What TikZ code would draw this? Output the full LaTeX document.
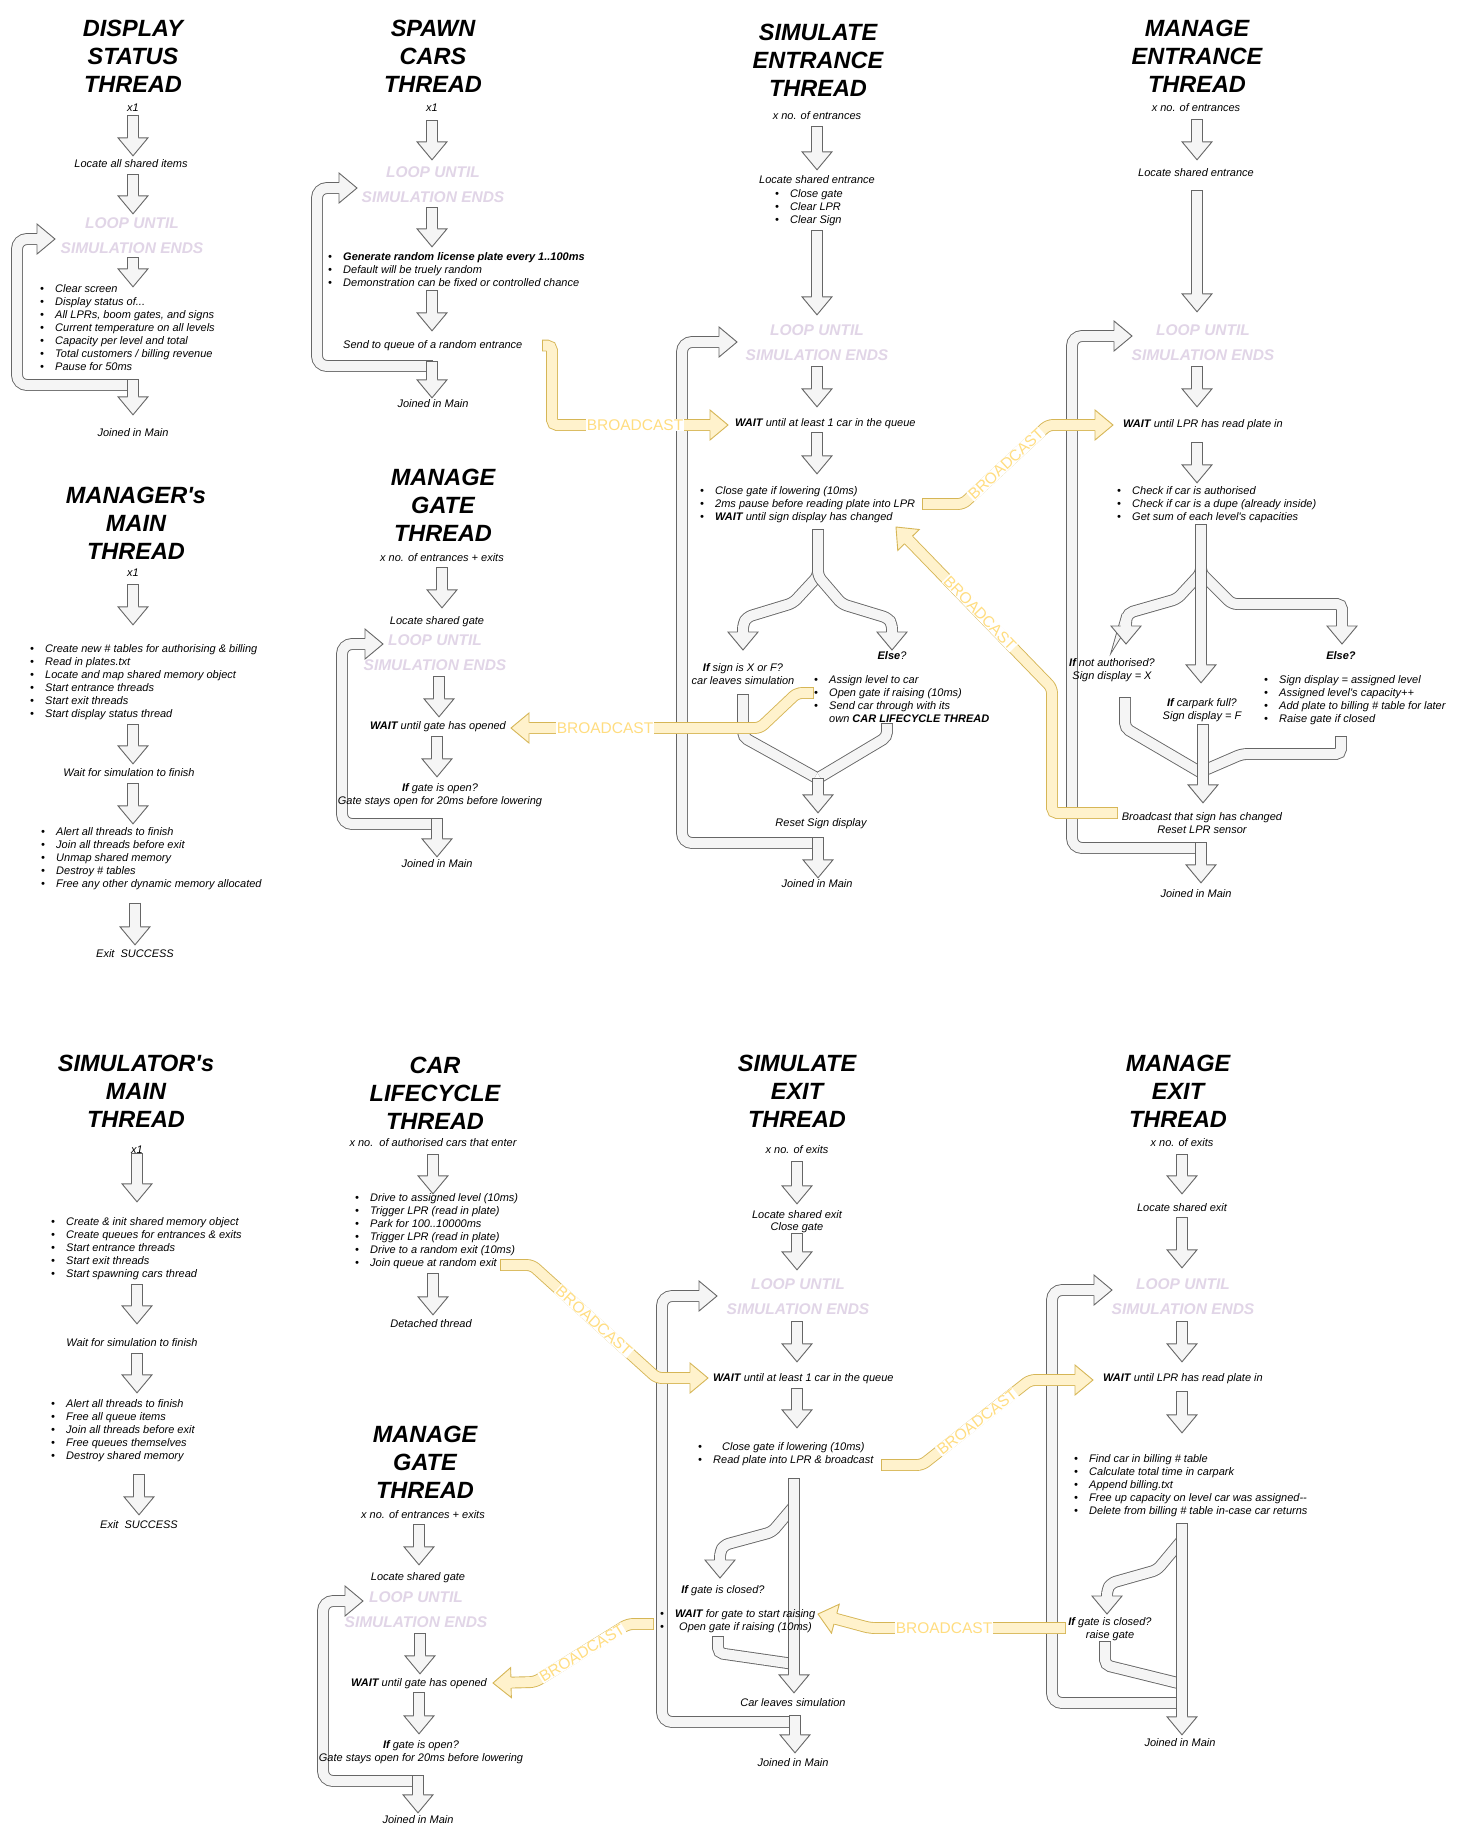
\documentclass[tikz,border=0pt]{standalone}
\usepackage{fontspec}
\setmainfont{Liberation Sans}
\usetikzlibrary{calc}
\pgfdeclarelayer{arrows}
\pgfsetlayers{arrows,main}

\definecolor{gfill}{HTML}{F5F5F5}
\definecolor{gline}{HTML}{666666}
\definecolor{yfill}{HTML}{FFF2CC}
\definecolor{yline}{HTML}{D6B656}
\definecolor{loopc}{HTML}{E1D5E7}
\definecolor{bcc}{HTML}{FFDD80}

% text blocks: first baseline is the node's base
\newcommand\ctab[1]{\begin{tabular}[t]{@{}c@{}}#1\end{tabular}}
\newcommand\ltab[1]{\begin{tabular}[t]{@{}l@{}l@{}}#1\end{tabular}}
\newcommand\bul{\makebox[15pt][l]{\textbullet}&}

\tikzset{
  gout0/.style={draw=gline, line width=11.8pt, shorten <=-0.9pt},
  gin0/.style={draw=gfill, line width=10pt},
  yout0/.style={draw=yline, line width=11.8pt, shorten <=-0.9pt},
  yin0/.style={draw=yfill, line width=10pt},
  gout/.style={gout0, shorten >=18pt},
  gin/.style={gin0, shorten >=18pt},
  yout/.style={yout0, shorten >=18pt},
  yin/.style={yin0, shorten >=18pt},
  ghead/.pic={
    \fill[gfill] (-19,5) -- (-18,5) -- (-18,15) -- (0,0) -- (-18,-15) -- (-18,-5) -- (-19,-5) -- cycle;
    \draw[gline, line width=0.9pt, line join=miter] (-18,5.45) -- (-18,15) -- (0,0) -- (-18,-15) -- (-18,-5.45);
  },
  yhead/.pic={
    \fill[yfill] (-19,5) -- (-18,5) -- (-18,15) -- (0,0) -- (-18,-15) -- (-18,-5) -- (-19,-5) -- cycle;
    \draw[yline, line width=0.9pt, line join=miter] (-18,5.45) -- (-18,15) -- (0,0) -- (-18,-15) -- (-18,-5.45);
  },
  txt/.style={font=\fontsize{11}{13}\selectfont\itshape, inner sep=0pt, anchor=base},
  txtl/.style={txt, anchor=base west},
  title/.style={font=\fontsize{23.5}{28}\selectfont\bfseries\itshape, inner sep=0pt, anchor=base},
  loopt/.style={font=\fontsize{15.5}{25}\selectfont\bfseries\itshape, text=loopc, inner sep=0pt, anchor=base},
  bclab/.style={font=\fontsize{15.5}{18}\selectfont, text=bcc, fill=white, inner sep=0.5pt},
  loopcorner/.style={rounded corners=10pt},
  brcorner/.style={rounded corners=5pt},
  ycorner/.style={rounded corners=5pt},
}

% block arrow along a path, drawn beneath the texts:
% [opts]{g|y}{path up to last bend}{last bend}{tip}
\newcommand\flexarr[5][]{%
  \begin{pgfonlayer}{arrows}
  \draw[#2out,#1] #3 -- #5;
  \draw[#2in,#1] #3 -- #5;
  \path let \p1=#4, \p2=#5, \n1={atan2(\y2-\y1,\x2-\x1)} in (\p2) pic[rotate=\n1] {#2head};
  \end{pgfonlayer}
}
% block band without a head
\newcommand\flexbar[3][]{%
  \begin{pgfonlayer}{arrows}
  \draw[#2out0,#1] #3;
  \draw[#2in0,#1] #3;
  \end{pgfonlayer}
}
% straight downward block arrow from node #1 to node #2 at x=#3,
% start moved down by #4, tip moved down by #5
\newcommand\garrow[5]{%
  \flexarr{g}{($(#1.south -| #3,0)+(0,#4)$)}{($(#1.south -| #3,0)+(0,#4)$)}{($(#2.north -| #3,0)+(0,#5)$)}}

\begin{document}
\begin{tikzpicture}[x=1pt,y=-1pt]
\begin{pgfonlayer}{arrows}
\fill[white] (0,0) rectangle (1461,1832);
\end{pgfonlayer}
\useasboundingbox (0,0) rectangle (1461,1832);

%================ DISPLAY STATUS THREAD ================
\node[title] (dsTitle) at (133,36.4) {\ctab{DISPLAY\\STATUS\\THREAD}};
\node[txt] (dsN) at (133,111.5) {\ctab{x1}};
\node[txt] (dsLoc) at (131,167.5) {\ctab{Locate all shared items}};
\node[loopt] (dsLoop) at (132,228.5) {\ctab{LOOP UNTIL\\SIMULATION ENDS}};
\node[txtl] (dsList) at (40,292.5) {\ltab{\bul Clear screen\\\bul Display status of...\\\bul All LPRs, boom gates, and signs\\\bul Current temperature on all levels\\\bul Capacity per level and total\\\bul Total customers / billing revenue\\\bul Pause for 50ms}};
\node[txt] (dsJoin) at (133,436.5) {\ctab{Joined in Main}};

\flexarr[loopcorner]{g}{(133,385) -- (17,385) -- (17,239)}{(17,239)}{(55,239)}
\garrow{dsN}{dsLoc}{133}{0}{-2.4}
\garrow{dsLoc}{dsLoop}{133}{3.6}{3}
\garrow{dsLoop}{dsList}{133}{-3}{3.6}
\garrow{dsList}{dsJoin}{133}{5.6}{-12.4}

%================ SPAWN CARS THREAD ================
\node[title] (scTitle) at (433,36.4) {\ctab{SPAWN\\CARS\\THREAD}};
\node[txt] (scN) at (432,111.5) {\ctab{x1}};
\node[loopt] (scLoop) at (433,177.5) {\ctab{LOOP UNTIL\\SIMULATION ENDS}};
\node[txtl] (scList) at (328,260.5) {\ltab{\bul\textbf{Generate random license plate every 1..100ms}\\\bul Default will be truely random\\\bul Demonstration can be fixed or controlled chance}};
\node[txtl] (scSend) at (343,348.5) {\ctab{Send to queue of a random entrance}};
\node[txt] (scJoin) at (433,407.5) {\ctab{Joined in Main}};

\flexarr[loopcorner]{g}{(432,366) -- (317,366) -- (317,188)}{(317,188)}{(357,188)}
\garrow{scN}{scLoop}{432}{5.6}{0}
\garrow{scLoop}{scList}{432}{-2}{-4.4}
\garrow{scList}{scSend}{432}{0.6}{-8.4}
\garrow{scSend}{scJoin}{432}{9.6}{-0.4}

%================ MANAGE GATE THREAD (top) ================
\node[title] (mgaTitle) at (443,485.4) {\ctab{MANAGE\\GATE\\THREAD}};
\node[txt] (mgaN) at (442,561.5) {\ctab{x no. of entrances + exits}};
\node[txt] (mgaLoc) at (437,624.5) {\ctab{Locate shared gate}};
\node[loopt] (mgaLoop) at (435,645.5) {\ctab{LOOP UNTIL\\SIMULATION ENDS}};
\node[txt] (mgaWait) at (438,729.5) {\ctab{\textbf{WAIT} until gate has opened}};
\node[txt] (mgaIf) at (440,791.5) {\ctab{\textbf{If} gate is open?\\Gate stays open for 20ms before lowering}};
\node[txt] (mgaJoin) at (437,867.5) {\ctab{Joined in Main}};

\flexarr[loopcorner]{g}{(437,824) -- (342,824) -- (342,644)}{(342,644)}{(383,644)}
\garrow{mgaN}{mgaLoc}{442}{2.6}{-7.4}
\garrow{mgaLoop}{mgaWait}{439}{-1}{-3.4}
\garrow{mgaWait}{mgaIf}{437}{3.6}{-5.4}
\garrow{mgaIf}{mgaJoin}{437}{10.6}{-1.4}

%================ MANAGER's MAIN THREAD ================
\node[title] (mmTitle) at (136,503) {\ctab{MANAGER\textquotesingle s\\MAIN\\THREAD}};
\node[txt] (mmN) at (133,576.5) {\ctab{x1}};
\node[txtl] (mmListA) at (30,652.5) {\ltab{\bul Create new \# tables for authorising \& billing\\\bul Read in plates.txt\\\bul Locate and map shared memory object\\\bul Start entrance threads\\\bul Start exit threads\\\bul Start display status thread}};
\node[txt] (mmWait) at (129,776.5) {\ctab{Wait for simulation to finish}};
\node[txtl] (mmListB) at (41,835.5) {\ltab{\bul Alert all threads to finish\\\bul Join all threads before exit\\\bul Unmap shared memory\\\bul Destroy \# tables\\\bul Free any other dynamic memory allocated}};
\node[txt] (mmExit) at (135,957.5) {\ctab{Exit~~SUCCESS}};

\garrow{mmN}{mmListA}{133}{4.6}{-18.4}
\garrow{mmListA}{mmWait}{133}{3.6}{-3.4}
\garrow{mmWait}{mmListB}{133}{3.6}{-2.4}
\garrow{mmListB}{mmExit}{135}{12.1}{-3.4}

%================ SIMULATE ENTRANCE THREAD ================
\node[title] (seTitle) at (818,40.4) {\ctab{SIMULATE\\ENTRANCE\\THREAD}};
\node[txt] (seN) at (817,119.5) {\ctab{x no. of entrances}};
\node[txt] (seLoc) at (817,183.5) {\ctab{Locate shared entrance}};
\node[txtl] (seList) at (775,197.5) {\ltab{\bul Close gate\\\bul Clear LPR\\\bul Clear Sign}};
\node[loopt] (seLoop) at (817,335.5) {\ctab{LOOP UNTIL\\SIMULATION ENDS}};
\node[txtl] (seWait) at (735,426.5) {\ctab{\textbf{WAIT} until at least 1 car in the queue}};
\node[txtl] (seListB) at (700,494.5) {\ltab{\bul Close gate if lowering (10ms)\\\bul 2ms pause before reading plate into LPR\\\bul\textbf{WAIT} until sign display has changed}};
\node[txt] (seElse) at (892,659.5) {\ctab{\textbf{Else}?}};
\node[txt] (seIfx) at (743,671.5) {\ctab{\textbf{If} sign is X or F?\\car leaves simulation}};
\node[txtl] (seListC) at (814,683.5) {\ltab{\bul Assign level to car\\\bul Open gate if raising (10ms)\\\bul Send car through with its\\& own \textbf{CAR LIFECYCLE THREAD}}};
\node[txt] (seReset) at (821,826.5) {\ctab{Reset Sign display}};
\node[txt] (seJoin) at (817,887.5) {\ctab{Joined in Main}};

\flexarr[loopcorner]{g}{(818,843) -- (682,843) -- (682,342)}{(682,342)}{(737,342)}
\garrow{seN}{seLoc}{817}{3.6}{-4.4}
\garrow{seList}{seLoop}{817}{3.6}{-3}
\garrow{seLoop}{seWait}{817}{-1}{-10.4}
\garrow{seWait}{seListB}{817}{2.6}{-11.4}
% sign check splits into two outcomes
\flexarr[brcorner]{g}{(818,530) -- (818,576) -- (793,603) -- (747,617) -- (743,624)}{(743,624)}{(743,650)}
\flexarr[brcorner]{g}{(818,530) -- (818,576) -- (842,604) -- (888,618) -- (892,624)}{(892,624)}{(892,650)}
% outcomes rejoin
\flexbar[brcorner]{g}{(743,695) -- (743,737) -- (815,777)}
\flexbar[brcorner]{g}{(887,724) -- (887,737) -- (820,777)}
\flexarr{g}{(818,779)}{(818,779)}{($(seReset.north -| 818,0)+(0,-4.4)$)}
\garrow{seReset}{seJoin}{818}{7.6}{-0.4}

%================ MANAGE ENTRANCE THREAD ================
\node[title] (meTitle) at (1197,36.4) {\ctab{MANAGE\\ENTRANCE\\THREAD}};
\node[txt] (meN) at (1196,111.5) {\ctab{x no. of entrances}};
\node[txt] (meLoc) at (1196,176.5) {\ctab{Locate shared entrance}};
\node[loopt] (meLoop) at (1203,335.5) {\ctab{LOOP UNTIL\\SIMULATION ENDS}};
\node[txtl] (meWait) at (1123,427.5) {\ctab{\textbf{WAIT} until LPR has read plate in}};
\node[txtl] (meList) at (1117,494.5) {\ltab{\bul Check if car is authorised\\\bul Check if car is a dupe (already inside)\\\bul Get sum of each level\textquotesingle s capacities}};
\node[txt] (meElse) at (1341,659.5) {\ctab{\textbf{Else?}}};
\node[txt] (meIfna) at (1112,666.5) {\ctab{\textbf{If} not authorised?\\Sign display = X}};
\node[txt] (meIffull) at (1202,706.5) {\ctab{\textbf{If} carpark full?\\Sign display = F}};
\node[txtl] (meListB) at (1264,683.5) {\ltab{\bul Sign display = assigned level\\\bul Assigned level\textquotesingle s capacity++\\\bul Add plate to billing \# table for later\\\bul Raise gate if closed}};
\node[txt] (meBc) at (1202,820.5) {\ctab{Broadcast that sign has changed\\Reset LPR sensor}};
\node[txt] (meJoin) at (1196,897.5) {\ctab{Joined in Main}};

\flexarr[loopcorner]{g}{(1200,848) -- (1072,848) -- (1072,336)}{(1072,336)}{(1132,336)}
\garrow{meN}{meLoc}{1197}{4.6}{-7.4}
\garrow{meLoc}{meLoop}{1197}{10.6}{-6}
\garrow{meLoop}{meWait}{1197}{-1}{-11.4}
\garrow{meWait}{meList}{1197}{11.6}{-2.4}
% three outcomes of the plate check
\flexarr[brcorner]{g}{(1201,525) -- (1201,573) -- (1177,599) -- (1128,613) -- (1126,620)}{(1126,620)}{(1126,644)}
\flexarr[brcorner]{g}{(1201,525) -- (1201,573) -- (1232,604) -- (1342,604)}{(1342,604)}{(1342,644)}
\garrow{meList}{meIffull}{1201}{0.6}{-14.4}
\flexbar[brcorner]{g}{(1125,698) -- (1125,728) -- (1200,772)}
\flexbar[brcorner]{g}{(1341,737) -- (1341,754) -- (1242,754) -- (1205,770)}
\garrow{meIffull}{meBc}{1203}{1.6}{-8.4}
\garrow{meBc}{meJoin}{1201}{5.6}{-5.4}

%================ SIMULATOR's MAIN THREAD ================
\node[title] (smTitle) at (136,1071.4) {\ctab{SIMULATOR\textquotesingle s\\MAIN\\THREAD}};
\node[txt] (smN) at (137,1153.5) {\ctab{x1}};
\node[txtl] (smListA) at (51,1225.5) {\ltab{\bul Create \& init shared memory object\\\bul Create queues for entrances \& exits\\\bul Start entrance threads\\\bul Start exit threads\\\bul Start spawning cars thread}};
\node[txt] (smWait) at (132,1346.5) {\ctab{Wait for simulation to finish}};
\node[txtl] (smListB) at (51,1407.5) {\ltab{\bul Alert all threads to finish\\\bul Free all queue items\\\bul Join all threads before exit\\\bul Free queues themselves\\\bul Destroy shared memory}};
\node[txt] (smExit) at (139,1528.5) {\ctab{Exit~~SUCCESS}};

\garrow{smN}{smListA}{137}{-3.4}{-14.4}
\garrow{smListA}{smWait}{137}{3.6}{-13.4}
\garrow{smWait}{smListB}{137}{3.6}{-5.4}
\garrow{smListB}{smExit}{139}{11.6}{-4.4}

%================ CAR LIFECYCLE THREAD ================
\node[title] (clTitle) at (435,1073.4) {\ctab{CAR\\LIFECYCLE\\THREAD}};
\node[txt] (clN) at (433,1146.5) {\ctab{x no.~~of authorised cars that enter}};
\node[txtl] (clList) at (355,1201.5) {\ltab{\bul Drive to assigned level (10ms)\\\bul Trigger LPR (read in plate)\\\bul Park for 100..10000ms\\\bul Trigger LPR (read in plate)\\\bul Drive to a random exit (10ms)\\\bul Join queue at random exit}};
\node[txt] (clDet) at (431,1327.5) {\ctab{Detached thread}};

\garrow{clN}{clList}{433}{4.6}{1.6}
\garrow{clList}{clDet}{433}{3.6}{-3.4}

%================ MANAGE GATE THREAD (bottom) ================
\node[title] (mgbTitle) at (425,1442.4) {\ctab{MANAGE\\GATE\\THREAD}};
\node[txt] (mgbN) at (423,1518.5) {\ctab{x no. of entrances + exits}};
\node[txt] (mgbLoc) at (418,1580.5) {\ctab{Locate shared gate}};
\node[loopt] (mgbLoop) at (416,1602.5) {\ctab{LOOP UNTIL\\SIMULATION ENDS}};
\node[txt] (mgbWait) at (419,1686.5) {\ctab{\textbf{WAIT} until gate has opened}};
\node[txt] (mgbIf) at (421,1748.5) {\ctab{\textbf{If} gate is open?\\Gate stays open for 20ms before lowering}};
\node[txt] (mgbJoin) at (418,1823.5) {\ctab{Joined in Main}};

\flexarr[loopcorner]{g}{(418,1781) -- (323,1781) -- (323,1601)}{(323,1601)}{(363,1601)}
\garrow{mgbN}{mgbLoc}{419}{2.6}{-6.4}
\garrow{mgbLoop}{mgbWait}{420}{-1}{-3.4}
\garrow{mgbWait}{mgbIf}{419}{2.6}{-5.4}
\garrow{mgbIf}{mgbJoin}{418}{10.6}{-1.4}

%================ SIMULATE EXIT THREAD ================
\node[title] (sxTitle) at (797,1071.4) {\ctab{SIMULATE\\EXIT\\THREAD}};
\node[txt] (sxN) at (797,1153.5) {\ctab{x no. of exits}};
\node[txt, font=\fontsize{11}{12}\selectfont\itshape] (sxLoc) at (797,1218.5) {\ctab{Locate shared exit\\Close gate}};
\node[loopt] (sxLoop) at (798,1289.5) {\ctab{LOOP UNTIL\\SIMULATION ENDS}};
\node[txtl] (sxWait) at (713,1381.5) {\ctab{\textbf{WAIT} until at least 1 car in the queue}};
\node[txtl] (sxList) at (698,1450.5) {\ltab{\bul\hspace{9pt}Close gate if lowering (10ms)\\\bul Read plate into LPR \& broadcast}};
\node[txt] (sxIfc) at (723,1593.5) {\ctab{\textbf{If} gate is closed?}};
\node[txtl] (sxListB) at (660,1617.5) {\ltab{\bul\textbf{WAIT} for gate to start raising\\\bul\hspace{4pt}Open gate if raising (10ms)}};
\node[txt] (sxLeave) at (793,1706.5) {\ctab{Car leaves simulation}};
\node[txt] (sxJoin) at (793,1766.5) {\ctab{Joined in Main}};

\flexarr[loopcorner]{g}{(795,1722) -- (662,1722) -- (662,1296)}{(662,1296)}{(717,1296)}
\garrow{sxN}{sxLoc}{797}{4.6}{-6.1}
\garrow{sxLoc}{sxLoop}{797}{0}{-2}
\garrow{sxLoop}{sxWait}{797}{0}{-10.4}
\garrow{sxWait}{sxList}{797}{3.6}{-13.4}
\flexarr[brcorner]{g}{(794,1506) -- (772,1532) -- (724,1545) -- (720,1552)}{(720,1552)}{(720,1578)}
\flexbar[brcorner]{g}{(718,1637) -- (718,1653) -- (794,1664)}
\garrow{sxList}{sxLeave}{794}{11.6}{-4.4}
\garrow{sxLeave}{sxJoin}{795}{5.6}{-4.4}

%================ MANAGE EXIT THREAD ================
\node[title] (mxTitle) at (1178,1071.4) {\ctab{MANAGE\\EXIT\\THREAD}};
\node[txt] (mxN) at (1182,1146.5) {\ctab{x no. of exits}};
\node[txt] (mxLoc) at (1182,1211.5) {\ctab{Locate shared exit}};
\node[loopt] (mxLoop) at (1183,1289.5) {\ctab{LOOP UNTIL\\SIMULATION ENDS}};
\node[txtl] (mxWait) at (1103,1381.5) {\ctab{\textbf{WAIT} until LPR has read plate in}};
\node[txtl] (mxList) at (1074,1462.5) {\ltab{\bul Find car in billing \# table\\\bul Calculate total time in carpark\\\bul Append billing.txt\\\bul Free up capacity on level car was assigned-{}-\\\bul Delete from billing \# table in-case car returns}};
\node[txt] (mxIfc) at (1110,1625.5) {\ctab{\textbf{If} gate is closed?\\raise gate}};
\node[txt] (mxJoin) at (1180,1746.5) {\ctab{Joined in Main}};

\flexarr[loopcorner]{g}{(1182,1703) -- (1052,1703) -- (1052,1290)}{(1052,1290)}{(1112,1290)}
\garrow{mxN}{mxLoc}{1182}{4.6}{-8.4}
\garrow{mxLoc}{mxLoop}{1182}{2.6}{-4}
\garrow{mxLoop}{mxWait}{1182}{0}{-10.4}
\garrow{mxWait}{mxList}{1182}{6.6}{-20.4}
\flexarr[brcorner]{g}{(1182,1540) -- (1157,1570) -- (1111,1583) -- (1107,1590)}{(1107,1590)}{(1107,1614)}
\flexbar[brcorner]{g}{(1105,1642) -- (1105,1665) -- (1182,1684)}
\garrow{mxList}{mxJoin}{1182}{5.6}{-2.4}

%================ BROADCAST signals ================
\flexarr[ycorner]{y}{(543,345.5) -- (552,345.5) -- (552,425)}{(552,425)}{(728,425)}
\node[bclab] (bcA) at (635,425) {BROADCAST};

\flexarr[ycorner]{y}{(813,693) -- (797,693) -- (760,728)}{(760,728)}{(511,728)}
\node[bclab] (bcB) at (605,728) {BROADCAST};

\flexarr[ycorner]{y}{(923,504) -- (963,504) -- (1048,425)}{(1048,425)}{(1113,425)}
\node[bclab, rotate=43] (bcC) at (1006,464) {BROADCAST};

\flexarr[ycorner]{y}{(1117,813) -- (1052,813) -- (1052,688)}{(1052,688)}{(896,527)}
\node[bclab, rotate=-46] (bcD) at (980,613) {BROADCAST};

\flexarr[ycorner]{y}{(501,1265) -- (532,1265) -- (657,1378)}{(657,1378)}{(708,1378)}
\node[bclab, rotate=-42] (bcE) at (594,1321) {BROADCAST};

\flexarr[ycorner]{y}{(653,1624) -- (628,1624) -- (535,1682)}{(535,1682)}{(493,1683)}
\node[bclab, rotate=31.5] (bcF) at (582,1653) {BROADCAST};

\flexarr[ycorner]{y}{(882,1465) -- (922,1465) -- (1030,1380)}{(1030,1380)}{(1093,1380)}
\node[bclab, rotate=38] (bcG) at (977,1422) {BROADCAST};

\flexarr[ycorner]{y}{(1065,1628) -- (870,1628)}{(870,1628)}{(818,1614)}
\node[bclab] (bcH) at (944,1628) {BROADCAST};

\end{tikzpicture}
\end{document}
